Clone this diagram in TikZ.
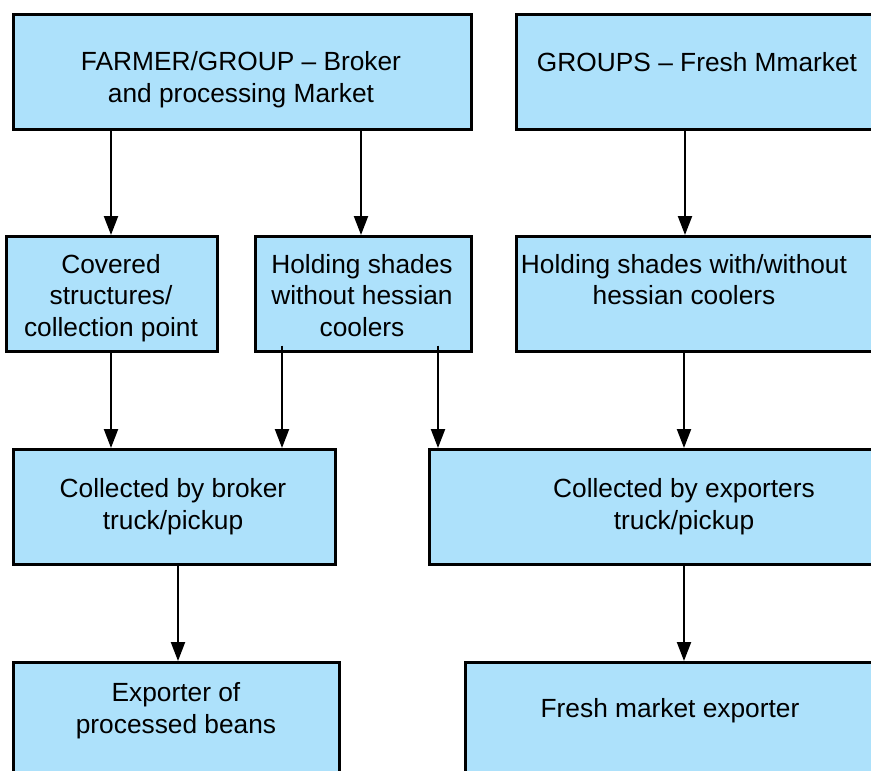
\documentclass[tikz,border=0pt]{standalone}
\usepackage{fontspec}
\setmainfont{Liberation Sans}
\usetikzlibrary{arrows.meta}
\definecolor{boxfill}{RGB}{173,225,251}
\begin{document}
\begin{tikzpicture}[x=1pt,y=-1pt,
  box/.style={draw=black, fill=boxfill, line width=2.5pt, rectangle, inner sep=0pt, anchor=north west},
  lbl/.style={anchor=base, inner sep=0pt, align=center, font=\fontsize{26.3}{31.5}\selectfont},
  arr/.style={line width=2.2pt, -{Triangle[width=14pt,length=19pt]}}]
\clip (0,0) rectangle (871,771);
% boxes
\node[box, minimum width=458pt, minimum height=115pt] (A) at (12,13) {};
\node[box, minimum width=370pt, minimum height=115pt] (B) at (515,13) {};
\node[box, minimum width=211pt, minimum height=115pt] (C) at (5,235) {};
\node[box, minimum width=216pt, minimum height=115pt] (D) at (254,235) {};
\node[box, minimum width=370pt, minimum height=115pt] (E) at (515,235) {};
\node[box, minimum width=322pt, minimum height=115pt] (F) at (12,448) {};
\node[box, minimum width=457pt, minimum height=115pt] (G) at (428,448) {};
\node[box, minimum width=326pt, minimum height=130pt] (H) at (12,661) {};
\node[box, minimum width=421pt, minimum height=130pt] (I) at (464,661) {};
% texts (anchor base = baseline of the last line)
\node[lbl] (tA) at (241,102) {FARMER/GROUP – Broker\\and processing Market};
\node[lbl] (tB) at (697,71) {GROUPS – Fresh Mmarket};
\node[lbl] (tC) at (111,336) {Covered\\structures/\\collection point};
\node[lbl] (tD) at (362,336) {Holding shades\\without hessian\\coolers};
\node[lbl] (tE) at (684,304.5) {Holding shades with/without\\hessian coolers};
\node[lbl] (tF) at (173,529) {Collected by broker\\truck/pickup};
\node[lbl] (tG) at (684,529) {Collected by exporters\\truck/pickup};
\node[lbl] (tH) at (176,733) {Exporter of\\processed beans};
\node[lbl] (tI) at (670,717) {Fresh market exporter};
% arrows
\draw[arr] (111,0 |- A.south) -- (111,0 |- C.north);
\draw[arr] (361,0 |- A.south) -- (361,0 |- D.north);
\draw[arr] (685,0 |- B.south) -- (685,0 |- E.north);
\draw[arr] (111,0 |- C.south) -- (111,0 |- F.north);
\draw[arr, shorten <=-7pt] (282,0 |- D.south) -- (282,0 |- F.north);
\draw[arr, shorten <=-7pt] (438,0 |- D.south) -- (438,0 |- G.north);
\draw[arr] (684,0 |- E.south) -- (684,0 |- G.north);
\draw[arr] (178,0 |- F.south) -- (178,0 |- H.north);
\draw[arr] (684,0 |- G.south) -- (684,0 |- I.north);
\end{tikzpicture}
\end{document}
